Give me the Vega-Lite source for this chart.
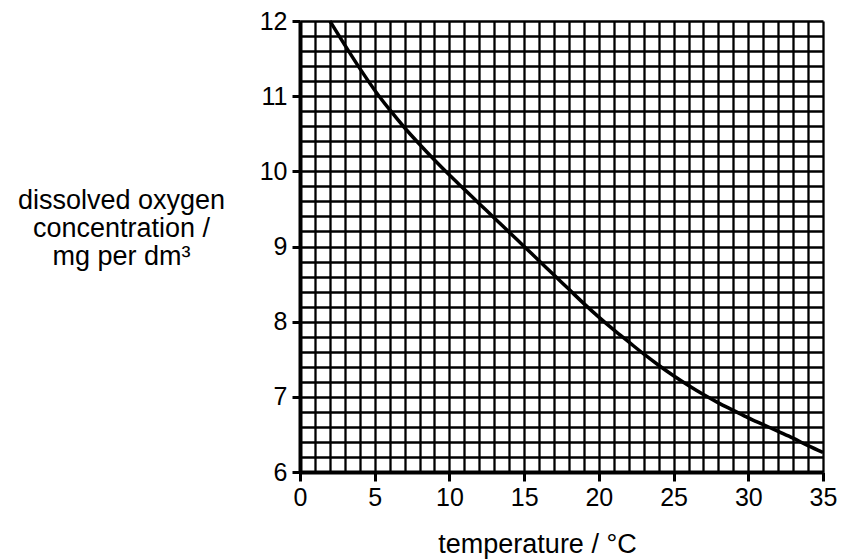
{
  "$schema": "https://vega.github.io/schema/vega-lite/v6.json",
  "width": 523,
  "height": 451,
  "autosize": "none",
  "padding": {"left": 300, "top": 21, "right": 18, "bottom": 87},
  "background": "white",
  "config": {"view": {"stroke": null}, "font": "Liberation Sans"},
  "data": {"values": [
    {"t": 2, "o": 12.0}, {"t": 3, "o": 11.68}, {"t": 4, "o": 11.37}, {"t": 5, "o": 11.08},
    {"t": 6, "o": 10.82}, {"t": 7, "o": 10.58}, {"t": 8, "o": 10.36}, {"t": 9, "o": 10.15},
    {"t": 10, "o": 9.95}, {"t": 11, "o": 9.76}, {"t": 12, "o": 9.57}, {"t": 13, "o": 9.38},
    {"t": 14, "o": 9.19}, {"t": 15, "o": 9.0}, {"t": 16, "o": 8.81}, {"t": 17, "o": 8.62},
    {"t": 18, "o": 8.43}, {"t": 19, "o": 8.24}, {"t": 20, "o": 8.06}, {"t": 21, "o": 7.89},
    {"t": 22, "o": 7.73}, {"t": 23, "o": 7.57}, {"t": 24, "o": 7.42}, {"t": 25, "o": 7.28},
    {"t": 26, "o": 7.15}, {"t": 27, "o": 7.03}, {"t": 28, "o": 6.92}, {"t": 29, "o": 6.82},
    {"t": 30, "o": 6.72}, {"t": 31, "o": 6.63}, {"t": 32, "o": 6.54}, {"t": 33, "o": 6.45},
    {"t": 34, "o": 6.35}, {"t": 35, "o": 6.26}
  ]},
  "mark": {"type": "line", "color": "black", "strokeWidth": 3.5, "interpolate": "monotone"},
  "encoding": {
    "x": {
      "field": "t", "type": "quantitative",
      "scale": {"domain": [0, 35], "nice": false, "zero": false},
      "axis": {
        "values": [0,1,2,3,4,5,6,7,8,9,10,11,12,13,14,15,16,17,18,19,20,21,22,23,24,25,26,27,28,29,30,31,32,33,34,35],
        "labelExpr": "datum.value % 5 === 0 ? datum.label : ''",
        "grid": true, "gridColor": "black", "gridWidth": 2.3, "gridOpacity": 1,
        "domain": true, "domainColor": "black", "domainWidth": 4,
        "ticks": true, "tickSize": 9, "tickWidth": 3,
        "tickColor": {"condition": {"test": "datum.value % 5 === 0", "value": "black"}, "value": "transparent"},
        "labelFont": "Liberation Sans", "labelFontSize": 25, "labelFontWeight": "normal", "labelColor": "black",
        "labelPadding": 4, "labelFlush": false, "labelOverlap": false,
        "title": "temperature / °C",
        "titleFont": "Liberation Sans", "titleFontSize": 27, "titleFontWeight": "normal", "titleColor": "black",
        "titleAlign": "center", "titleAnchor": null, "titleX": 237, "titleY": 80, "titleBaseline": "alphabetic"
      }
    },
    "y": {
      "field": "o", "type": "quantitative",
      "scale": {"domain": [6, 12], "nice": false, "zero": false},
      "axis": {
        "values": [6,6.2,6.4,6.6,6.8,7,7.2,7.4,7.6,7.8,8,8.2,8.4,8.6,8.8,9,9.2,9.4,9.6,9.8,10,10.2,10.4,10.6,10.8,11,11.2,11.4,11.6,11.8,12],
        "labelExpr": "abs(datum.value - round(datum.value)) < 0.01 ? format(datum.value, 'd') : ''",
        "grid": true, "gridColor": "black", "gridWidth": 2.3, "gridOpacity": 1,
        "domain": true, "domainColor": "black", "domainWidth": 4,
        "ticks": true, "tickSize": 8, "tickWidth": 3,
        "tickColor": {"condition": {"test": "abs(datum.value - round(datum.value)) < 0.01", "value": "black"}, "value": "transparent"},
        "labelFont": "Liberation Sans", "labelFontSize": 25, "labelFontWeight": "normal", "labelColor": "black",
        "labelPadding": 5, "labelFlush": false, "labelOverlap": false,
        "title": ["dissolved oxygen", "concentration /", "mg per dm³"],
        "titleFont": "Liberation Sans", "titleFontSize": 27, "titleFontWeight": "normal", "titleColor": "black",
        "titleAngle": 0, "titleAlign": "center", "titleAnchor": null, "titleBaseline": "alphabetic",
        "titleLineHeight": 28, "titleX": -179, "titleY": 187
      }
    }
  }
}
